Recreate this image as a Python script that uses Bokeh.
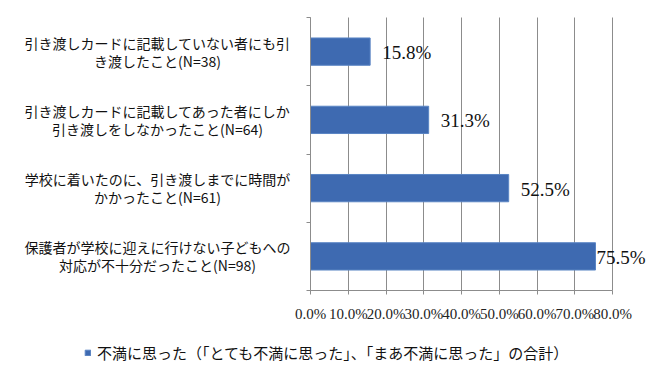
from bokeh.plotting import figure
from bokeh.models import (ColumnDataSource, FixedTicker, LabelSet, Label,
                          Legend, LegendItem, Range1d)
from bokeh.embed import file_html
from bokeh.resources import INLINE

# ---- data ----
categories = [
    "引き渡しカードに記載していない者にも引\nき渡したこと(N=38)",
    "引き渡しカードに記載してあった者にしか\n引き渡しをしなかったこと(N=64)",
    "学校に着いたのに、引き渡しまでに時間が\nかかったこと(N=61)",
    "保護者が学校に迎えに行けない子どもへの\n対応が不十分だったこと(N=98)",
]
values = [0.158, 0.313, 0.525, 0.755]
x_ticks = [0.0, 0.1, 0.2, 0.3, 0.4, 0.5, 0.6, 0.7, 0.8]
series_name = "不満に思った（「とても不満に思った」、「まあ不満に思った」の合計）"

# ---- layout (pixels) ----
W, H = 650, 378
FRAME_L, FRAME_B = 10, 8             # borders kept for the (label-less) axes
FRAME_R, FRAME_T = W, 0
AX_X0, AX_X1 = 310, 612              # pixel x of 0 % and 80 %
AX_YT, AX_YB = 17, 290               # pixel y of plot-area top and bottom
n = len(categories)
X_MAX = x_ticks[-1]
ppx = (AX_X1 - AX_X0) / X_MAX
ppy = (AX_YB - AX_YT) / n
frame_bottom = H - FRAME_B
x_start = -(AX_X0 - FRAME_L) / ppx
x_end = x_start + (FRAME_R - FRAME_L) / ppx
y_top = (n - 0.5) + (AX_YT - FRAME_T) / ppy
y_bot = -0.5 - (frame_bottom - AX_YB) / ppy

# ---- styles ----
label_offsets = [12, 12, 12, 1]
BAR = "#3E6AB1"
GRID = "#8C8C8C"
JP = "Noto Sans CJK JP"
SERIF = "Liberation Serif"
TXT = "#111111"

ypos = [n - 1 - i for i in range(n)]  # first category at top

src = ColumnDataSource(dict(
    y=ypos, v=values,
    txt=[f"{v*100:.1f}%" for v in values],
    dx=label_offsets,
))
tick_src = ColumnDataSource(dict(
    x=x_ticks, y=[-0.5] * len(x_ticks),
    txt=[f"{t*100:.1f}%" for t in x_ticks],
))

p = figure(width=W, height=H, output_backend="svg", toolbar_location=None,
           x_range=Range1d(x_start, x_end), y_range=Range1d(y_bot, y_top),
           min_border_left=FRAME_L, min_border_right=0,
           min_border_top=FRAME_T, min_border_bottom=FRAME_B)
p.outline_line_color = None
p.background_fill_color = "white"
p.border_fill_color = "white"

# grid lines (only across the plot area)
xg = p.xgrid[0]
xg.ticker = FixedTicker(ticks=x_ticks)
if "cross_bounds" in xg.properties():
    xg.grid_line_color = GRID
    xg.bounds = (0, X_MAX)
    xg.cross_bounds = (-0.5, n - 0.5)
else:
    xg.grid_line_color = None
    p.segment(x0=x_ticks, y0=[-0.5] * len(x_ticks), x1=x_ticks,
              y1=[n - 0.5] * len(x_ticks), line_color=GRID, line_width=1)
p.ygrid.grid_line_color = None

bars = p.hbar(y="y", right="v", left=0, height=0.4, source=src,
              fill_color=BAR, line_color="#5A85C4", line_width=1)

# x axis drawn at the bottom of the plot area
p.xaxis.fixed_location = -0.5
p.xaxis.ticker = FixedTicker(ticks=x_ticks)
p.xaxis.bounds = (0, X_MAX)
p.xaxis.axis_line_color = GRID
p.xaxis.major_tick_line_color = GRID
p.xaxis.major_tick_out = 4
p.xaxis.major_tick_in = 0
p.xaxis.minor_tick_line_color = None
p.xaxis.major_label_text_color = None
p.xaxis.major_label_text_font_size = "1px"
p.xaxis.major_label_standoff = 0

# y axis at x = 0: boundary ticks only
p.yaxis.fixed_location = 0
p.yaxis.ticker = FixedTicker(ticks=[i - 0.5 for i in range(n + 1)])
p.yaxis.bounds = (-0.5, n - 0.5)
p.yaxis.axis_line_color = GRID
p.yaxis.major_tick_line_color = GRID
p.yaxis.major_tick_out = 4
p.yaxis.major_tick_in = 0
p.yaxis.minor_tick_line_color = None
p.yaxis.major_label_text_color = None
p.yaxis.major_label_text_font_size = "1px"
p.yaxis.major_label_standoff = 0

# x tick labels
p.add_layout(LabelSet(x="x", y="y", text="txt", source=tick_src, y_offset=-23,
                      text_font=SERIF, text_font_size="15px",
                      text_baseline="middle", text_align="center",
                      text_color="#222222"))

# value labels
p.add_layout(LabelSet(x="v", y="y", text="txt", source=src, x_offset="dx",
                      y_offset=-1,
                      text_font=SERIF, text_font_size="19px",
                      text_baseline="middle", text_align="left",
                      text_color=TXT))

# category labels (two centred lines each)
LABEL_CX = 157 - FRAME_L
for cat, yy in zip(categories, ypos):
    lines = cat.split("\n")
    offs = [9, -9] if len(lines) == 2 else [0]
    for ln, off in zip(lines, offs):
        p.add_layout(Label(x=LABEL_CX, y=yy, x_units="screen", y_units="data",
                           y_offset=off, text=ln, text_font=JP,
                           text_font_size="14px", text_align="center",
                           text_baseline="middle", text_color=TXT))

# legend
legend = Legend(items=[LegendItem(label=series_name, renderers=[bars])],
                location=(84 - FRAME_L, 7), orientation="horizontal",
                padding=0, margin=0, glyph_width=7, glyph_height=7,
                label_standoff=6, label_height=15,
                label_text_font=JP, label_text_font_size="15px",
                label_text_color=TXT,
                border_line_color=None, background_fill_alpha=0)
p.add_layout(legend, "center")

open("out.html", "w").write(file_html(p, INLINE))
